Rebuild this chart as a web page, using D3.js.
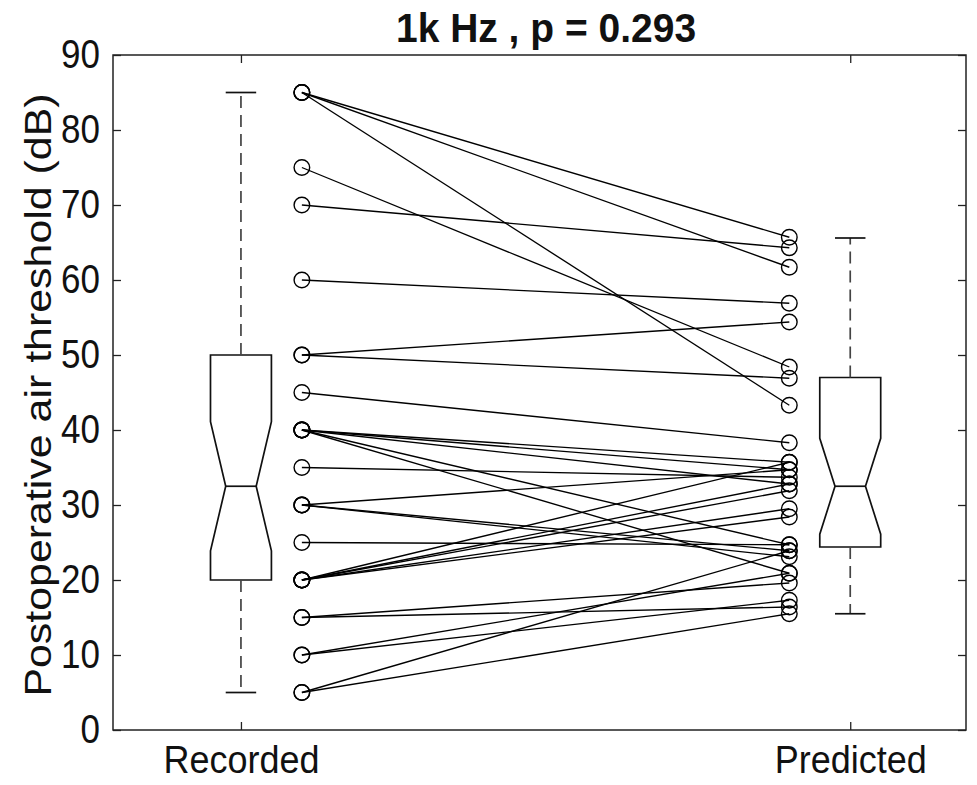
<!DOCTYPE html>
<html><head><meta charset="utf-8">
<script src="https://cdn.jsdelivr.net/npm/d3@7"></script>
<style>body{margin:0;background:#fff}</style>
</head><body>
<svg id="c" width="977" height="785"></svg>
<script>
const categories = ["Recorded", "Predicted"];
const yTicks = [0, 10, 20, 30, 40, 50, 60, 70, 80, 90];
const recorded  = [85, 85, 85, 75, 70, 60, 50, 50, 45, 40, 40, 40, 40, 40, 35, 30, 30, 30, 25, 20, 20, 20, 20, 20, 15, 15, 10, 10, 5, 5];
const predicted = [65.7, 61.7, 43.3, 48.4, 64.3, 56.9, 54.4, 46.9, 38.3, 35.7, 34.7, 32.8, 24.7, 20.9, 33.7, 34.7, 23.9, 23.1, 24.7, 35.7, 31.9, 29.5, 28.4, 32.8, 19.6, 16.4, 20.9, 17.3, 23.9, 15.5];
// box stats: [lower whisker, q1, notch low, median, notch high, q3, upper whisker]
const boxRecorded  = [5, 20, 23.9, 32.5, 41.1, 50, 85];
const boxPredicted = [15.5, 24.4, 26.1, 32.5, 38.9, 47.0, 65.6];
const titleText = "1k Hz , p = 0.293";
const yLabelText = "Postoperative air threshold (dB)";

const svg = d3.select("#c");
const FONT = "'Liberation Sans', Arial, Helvetica, sans-serif";
const L = 113, R = 966, T = 55, B = 730;
const x = d3.scaleLinear().domain([0.79, 2.19]).range([L, R]);
const y = d3.scaleLinear().domain([0, 90]).range([B, T]);
const stretch = 1.14;

// paired lines
const pairs = recorded.map((r, i) => ({r, p: predicted[i]}));
svg.append("g").selectAll("line").data(pairs).join("line")
  .attr("x1", x(1.1)).attr("y1", d => y(d.r))
  .attr("x2", x(1.9)).attr("y2", d => y(d.p))
  .attr("stroke", "#000").attr("stroke-width", 1.35);
svg.append("g").selectAll("circle").data(recorded).join("circle")
  .attr("cx", x(1.1)).attr("cy", d => y(d)).attr("r", 7.8)
  .attr("fill", "none").attr("stroke", "#000").attr("stroke-width", 1.4);
svg.append("g").selectAll("circle").data(predicted).join("circle")
  .attr("cx", x(1.9)).attr("cy", d => y(d)).attr("r", 7.8)
  .attr("fill", "none").attr("stroke", "#000").attr("stroke-width", 1.4);

// boxes
function drawBox(c, s) {
  const w = 0.05;
  const g = svg.append("g").attr("fill", "none").attr("stroke", "#111").attr("stroke-width", 1.7);
  const [lo, q1, nl, med, nh, q3, hi] = s;
  const pts = [[c - w, q3], [c + w, q3], [c + w, nh], [c + w / 2, med], [c + w, nl], [c + w, q1],
               [c - w, q1], [c - w, nl], [c - w / 2, med], [c - w, nh]];
  g.append("path").attr("d", d3.line().x(d => x(d[0])).y(d => y(d[1]))(pts) + "Z");
  g.append("line").attr("x1", x(c - w / 2)).attr("x2", x(c + w / 2)).attr("y1", y(med)).attr("y2", y(med));
  g.append("line").attr("x1", x(c)).attr("x2", x(c)).attr("y1", y(q3)).attr("y2", y(hi))
    .attr("stroke-dasharray", "12,7").attr("stroke", "#444");
  g.append("line").attr("x1", x(c)).attr("x2", x(c)).attr("y1", y(q1)).attr("y2", y(lo))
    .attr("stroke-dasharray", "12,7").attr("stroke", "#444");
  g.append("line").attr("x1", x(c - w / 2)).attr("x2", x(c + w / 2)).attr("y1", y(hi)).attr("y2", y(hi));
  g.append("line").attr("x1", x(c - w / 2)).attr("x2", x(c + w / 2)).attr("y1", y(lo)).attr("y2", y(lo));
}
drawBox(1, boxRecorded);
drawBox(2, boxPredicted);

// frame
svg.append("rect").attr("x", L).attr("y", T).attr("width", R - L).attr("height", B - T)
  .attr("fill", "none").attr("stroke", "#222").attr("stroke-width", 1.5);

// axes
const yAx = svg.append("g").attr("transform", `translate(${L},0)`)
  .call(d3.axisLeft(y).tickValues(yTicks).tickSize(-8).tickPadding(13));
const yAxR = svg.append("g").attr("transform", `translate(${R},0)`)
  .call(d3.axisRight(y).tickValues(yTicks).tickSize(-8).tickFormat(""));
const xAx = svg.append("g").attr("transform", `translate(0,${B})`)
  .call(d3.axisBottom(x).tickValues([1, 2]).tickSize(-8).tickPadding(16).tickFormat((d, i) => categories[i]));
const xAxT = svg.append("g").attr("transform", `translate(0,${T})`)
  .call(d3.axisTop(x).tickValues([1, 2]).tickSize(-8).tickFormat(""));
[yAx, yAxR, xAx, xAxT].forEach(a => {
  a.select(".domain").remove();
  a.selectAll(".tick line").attr("stroke", "#222").attr("stroke-width", 1.3);
  a.selectAll("text").attr("font-family", FONT).attr("font-size", 35).attr("fill", "#111");
});
yAx.selectAll("text").attr("transform", `scale(1,${stretch})`).attr("dy", "0.32em");
xAx.selectAll("text").attr("font-size", 36).attr("dy", "0.71em").attr("transform", `scale(1,1.1)`).attr("y", 15 / 1.1);

// title
svg.append("text").attr("transform", `translate(546,42) scale(1,1.02)`)
  .attr("text-anchor", "middle").attr("font-family", FONT).attr("font-weight", "bold")
  .attr("font-size", 39).attr("fill", "#111").text(titleText);

// y label
svg.append("text").attr("transform", `translate(51,395) rotate(-90) scale(1.16,1)`)
  .attr("text-anchor", "middle").attr("font-family", FONT)
  .attr("font-size", 37).attr("fill", "#111").text(yLabelText);
</script>
</body></html>
